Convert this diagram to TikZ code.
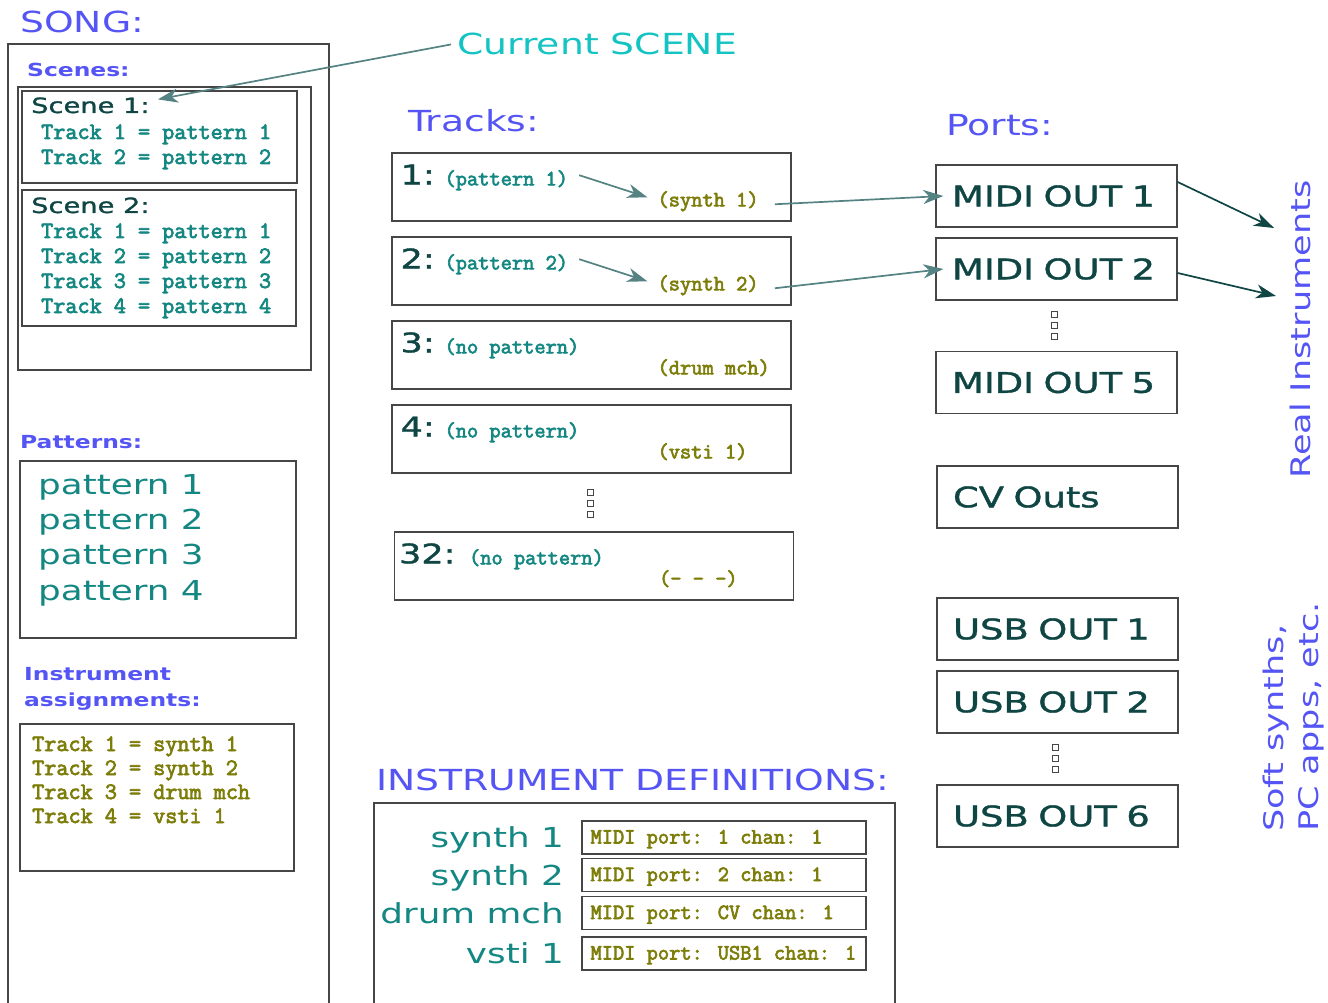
\documentclass[tikz,border=0pt]{standalone}
\usepackage{fontspec}
\newfontfamily\slabmono[FakeBold=3]{Latin Modern Mono}
\newfontfamily\eurofont[FakeStretch=1.3]{DejaVu Sans}
\newfontfamily\eurothick[FakeStretch=1.3,FakeBold=1.2]{DejaVu Sans}
\usepackage{tikz}
\usetikzlibrary{positioning, arrows.meta}

\definecolor{songblue}{RGB}{85,85,245}
\definecolor{tealtxt}{RGB}{20,135,130}
\definecolor{darkteal}{RGB}{15,70,68}
\definecolor{olivetxt}{RGB}{125,125,10}
\definecolor{cyantxt}{RGB}{20,195,195}
\definecolor{arrowgray}{RGB}{85,130,130}
\definecolor{boxgray}{RGB}{70,70,70}

\tikzset{
    box/.style={draw=boxgray, line width=1.3pt},
    head/.style={font={\eurofont\fontsize{29}{34}\selectfont}, text=songblue, inner sep=0pt},
    subhead/.style={font={\eurofont\bfseries\fontsize{18}{27}\selectfont}, text=songblue, inner sep=0pt},
    scenelbl/.style={font={\eurothick\fontsize{21}{25}\selectfont}, text=darkteal},
    mono/.style={font={\slabmono\fontsize{23.5}{26}\selectfont}, inner sep=0pt},
    tpat/.style={font={\slabmono\fontsize{21.8}{26}\selectfont}, text=tealtxt},
    tsyn/.style={font={\slabmono\fontsize{21.8}{26}\selectfont}, text=olivetxt},
    tnum/.style={font={\eurothick\fontsize{27}{32}\selectfont}, text=darkteal, inner sep=0pt},
    big/.style={font={\eurofont\fontsize{27.5}{35}\selectfont}, text=tealtxt, inner sep=0pt},
    trackbox/.style={box, minimum width=399pt, minimum height=68pt},
    portbox/.style={box, text width=209pt, inner xsep=16pt, minimum height=62pt, align=left,
        font={\eurothick\fontsize{28.4}{32}\selectfont}, text=darkteal},
    defbox/.style={box, minimum width=284pt, minimum height=33pt},
    dotbox/.style={draw=boxgray, line width=0.9pt},
    arr/.style={draw=arrowgray, line width=1.7pt, -{Stealth[length=20pt,width=14pt,inset=6pt]}},
    darr/.style={draw=darkteal, line width=1.7pt, -{Stealth[length=20pt,width=14pt,inset=6pt]}}
}

\begin{document}
\begin{tikzpicture}[x=1pt, y=-1pt]
    \useasboundingbox (0,0) rectangle (1328,1003);

    % song column
    \node[head, anchor=base west] (song) at (20,33) {SONG:};
    \draw[box] (8,1010) |- (329,44) -- (329,1010);
    \node[subhead, anchor=base west] (scenes) at (27,77) {Scenes:};
    \draw[box] (18,87) rectangle (311,370);
    \draw[box] (22,91) rectangle (297,183);
    \draw[box] (22,190) rectangle (296,326);
    \node[scenelbl, anchor=base west, inner sep=0pt] (sc1) at (31,113) {Scene 1:};
    \foreach \i in {1,2}
        \node[mono, text=tealtxt, anchor=base west] (sa\i) at (41,114+25*\i) {Track \i{} = pattern \i};
    \node[scenelbl, anchor=base west, inner sep=0pt] (sc2) at (31,213) {Scene 2:};
    \foreach \i in {1,...,4}
        \node[mono, text=tealtxt, anchor=base west] (sb\i) at (41,213+25*\i) {Track \i{} = pattern \i};

    \node[subhead, anchor=base west] (pats) at (20,448) {Patterns:};
    \draw[box] (20,461) rectangle (296,638);
    \foreach \i in {1,...,4}
        \node[big, anchor=base west] (pat\i) at (38,459+35.3*\i) {pattern \i};

    \node[subhead, anchor=base west] (assg) at (24,680) {Instrument};
    \node[subhead, anchor=base west] (assg2) at (24,706) {assignments:};
    \draw[box] (20,724) rectangle (294,871);
    \foreach \i/\s in {1/synth 1, 2/synth 2, 3/drum mch, 4/vsti 1}
        \node[mono, text=olivetxt, anchor=base west] (as\i) at (32,727+24*\i) {Track \i{} = \s};

    % current scene pointer
    \node[head, text=cyantxt, anchor=base west] (cur) at (457,55) {Current SCENE};
    \draw[arr] ([xshift=-6pt]cur.west) -- ([xshift=8pt,yshift=6pt]sc1.east);

    % tracks
    \node[head, anchor=base west] (tracks) at (408,132) {Tracks:};
    \foreach \n/\y/\pat/\syn in {1/187/{pattern 1}/{synth 1}, 2/271/{pattern 2}/{synth 2},
            3/355/{no pattern}/{drum mch}, 4/439/{no pattern}/{vsti 1}}{
        \node[trackbox] (trk\n) at (591.5,\y) {};
        \node[tnum, anchor=base west] (num\n) at ([xshift=9pt,yshift=-32pt]trk\n.north west) {\n:};
        \node[tpat, anchor=base west, inner sep=0pt] (tp\n) at ([xshift=53pt,yshift=-33pt]trk\n.north west) {(\pat)};
        \node[tsyn, anchor=base west, inner sep=0pt] (ts\n) at ([xshift=266pt,yshift=-54pt]trk\n.north west) {(\syn)};
    }
    \foreach \y in {489,500,511}
        \draw[dotbox] (587,\y) rectangle +(6,6);
    \node[trackbox] (trk32) at (594,566) {};
    \node[tnum, anchor=base west] (num32) at ([xshift=5pt,yshift=-32pt]trk32.north west) {32:};
    \node[tpat, anchor=base west, inner sep=0pt] (tp32) at ([xshift=75pt,yshift=-33pt]trk32.north west) {(no pattern)};
    \node[tsyn, anchor=base west, inner sep=0pt] (ts32) at ([xshift=265pt,yshift=-54pt]trk32.north west) {(- - -)};

    \draw[arr] ([xshift=11pt,yshift=5pt]tp1.east) -- ([xshift=-10pt,yshift=4pt]ts1.west);
    \draw[arr] ([xshift=11pt,yshift=5pt]tp2.east) -- ([xshift=-10pt,yshift=4pt]ts2.west);

    % ports
    \node[head, anchor=base west] (ports) at (946,136) {Ports:};
    \node[portbox] (midi1) at (1056.5,196) {MIDI OUT 1};
    \node[portbox] (midi2) at (1056.5,269) {MIDI OUT 2};
    \foreach \y in {311,322,333}
        \draw[dotbox] (1051,\y) rectangle +(6,6);
    \node[portbox] (midi5) at (1056.5,382.5) {MIDI OUT 5};
    \node[portbox] (cv) at (1057.5,497) {CV Outs};
    \node[portbox] (usb1) at (1057.5,629) {USB OUT 1};
    \node[portbox] (usb2) at (1057.5,702) {USB OUT 2};
    \foreach \y in {744,755,766}
        \draw[dotbox] (1052,\y) rectangle +(6,6);
    \node[portbox] (usb6) at (1057.5,816) {USB OUT 6};

    \draw[arr] ([xshift=16pt,yshift=-3pt]ts1.east) -- ([xshift=8pt]midi1.west);
    \draw[arr] ([xshift=16pt,yshift=-3pt]ts2.east) -- ([xshift=8pt]midi2.west);

    \coordinate (ri1) at (1274,228);
    \coordinate (ri2) at (1276,296);
    \draw[darr] ([yshift=14pt]midi1.east) -- (ri1);
    \draw[darr] ([yshift=-4pt]midi2.east) -- (ri2);

    \node[head, font={\eurofont\fontsize{27}{34}\selectfont}, rotate=90, anchor=north west] (real) at (1290,479) {Real Instruments};
    \node[head, font={\eurofont\fontsize{27}{35}\selectfont}, rotate=90, anchor=north west, align=left] (soft) at (1263,832) {Soft synths,\\PC apps, etc.};

    % instrument definitions
    \node[head, anchor=base west] (idefs) at (376,790) {INSTRUMENT DEFINITIONS:};
    \draw[box] (374,1010) |- (895,803) -- (895,1010);
    \foreach \i/\y/\nm/\pt in {1/837.5/synth 1/1, 2/875/synth 2/2, 3/913/drum mch/CV, 4/953.5/vsti 1/USB1}{
        \node[defbox] (def\i) at (724,\y) {};
        \node[big, anchor=base east] (inst\i) at (564,\y+10) {\nm};
        \node[mono, font={\slabmono\fontsize{21.8}{26}\selectfont}, text=olivetxt, anchor=base west] (dt\i) at ([xshift=9pt,yshift=-6pt]def\i.west) {MIDI port: \pt{} chan: 1};
    }
\end{tikzpicture}
\end{document}
